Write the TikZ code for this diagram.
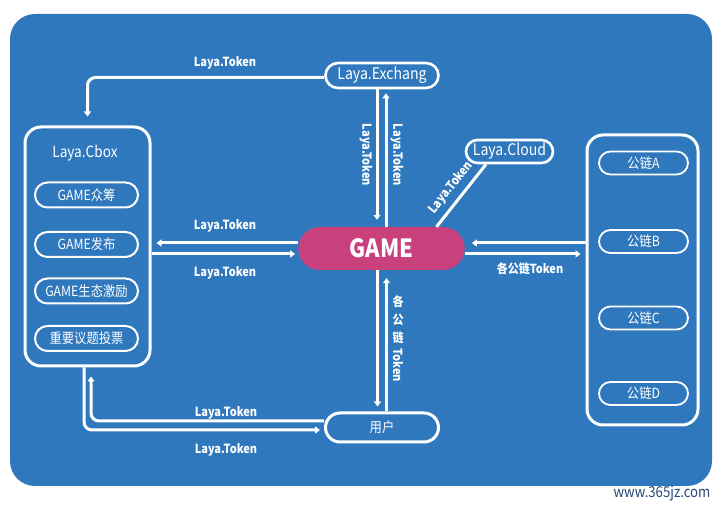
\documentclass[tikz,border=0pt]{standalone}
\usepackage{fontspec}
\usepackage{graphicx}
\setmainfont{Noto Sans CJK SC}[FakeStretch=0.88]
\usetikzlibrary{shapes.misc,arrows.meta}
\definecolor{panelblue}{RGB}{47,120,190}
\definecolor{gamepink}{RGB}{200,65,124}
\definecolor{markblue}{RGB}{40,70,120}
\tikzset{
  pill/.style={rounded rectangle, draw=white, line width=2.2pt, text=white,
    inner sep=0pt, font=\fontsize{14}{14}\selectfont},
  bigbox/.style={rectangle, rounded corners=16pt, draw=white, line width=3pt, inner sep=0pt},
  link/.style={draw=white, line width=3pt},
  arr/.style={link, -{Triangle[length=5pt,width=7pt]}},
  token/.style={text=white, font=\bfseries\fontsize{12.5}{12.5}\selectfont, inner sep=1pt},
}

\begin{document}
\begin{tikzpicture}[x=1pt,y=1pt]
\useasboundingbox (0,0) rectangle (727,510);
\fill[panelblue, rounded corners=25pt] (10,24) rectangle (712,496);

% nodes
\node[pill, minimum width=113pt, minimum height=25pt, line width=2.6pt,
  font=\fontsize{16}{16}\selectfont] (exch) at (382,434.5) {Laya.Exchang};
\node[pill, minimum width=87pt, minimum height=23pt, line width=2.6pt,
  font=\fontsize{16}{16}\selectfont] (cloud) at (509.5,358.5) {Laya.Cloud};
\node[rounded rectangle, fill=gamepink, minimum width=173pt, minimum height=43pt,
  text=white, font=\bfseries\fontsize{25}{25}\selectfont] (game) at (381.5,261.5) {GAME};

\node[bigbox, minimum width=125pt, minimum height=239pt] (cbox) at (87.5,263.5) {};
\node[text=white, font=\fontsize{15.5}{15.5}\selectfont] (cboxtitle) at (85,357) {Laya.Cbox};
\foreach \y/\name/\txt in {315/crowd/GAME众筹, 265.5/publish/GAME发布,
    219/reward/GAME生态激励, 171.5/vote/重要议题投票}
  \node[pill, minimum width=103pt, minimum height=25pt, line width=2pt] (\name) at (86.5,\y) {\txt};

\node[bigbox, minimum width=111pt, minimum height=290pt] (chains) at (642.5,230) {};
\foreach \y/\n in {347/A, 268.5/B, 192/C, 116.5/D}
  \node[pill, minimum width=89pt, minimum height=23pt, line width=1.8pt] (chain\n) at (643.5,\y) {公链\n};

\node[pill, minimum width=113pt, minimum height=29pt, line width=3pt] (user) at (382,82.5) {用户};

% exchange -> cbox
\draw[arr, rounded corners=8pt] ([yshift=-2pt]exch.west) -| ([yshift=9pt]cbox.north);
\node[token] (t1) at (225,447) {Laya.Token};

% exchange <-> game
\coordinate (gNL) at ([xshift=-4.5pt]game.north);
\coordinate (gNR) at ([xshift=4.5pt]game.north);
\draw[arr, shorten >=7pt] (gNL |- exch.south) -- (gNL);
\draw[arr, shorten >=4pt] (gNR) -- (gNR |- exch.south);
\node[token, rotate=-90] (t2) at (366,355) {Laya.Token};
\node[token, rotate=-90] (t3) at (397,355) {Laya.Token};

% cloud
\draw[link] ([xshift=55pt]game.north) -- node[token, sloped, above=4pt] (t4) {Laya.Token}
  ([xshift=-23.5pt]cloud.south);

% game <-> cbox
\coordinate (gWT) at ([yshift=5.5pt]game.west);
\coordinate (gWB) at ([yshift=-5.5pt]game.west);
\draw[arr, shorten >=5pt] (gWT) -- (gWT -| cbox.east);
\draw[arr, shorten >=3pt] (gWB -| cbox.east) -- (gWB);
\node[token] (t5) at (225,284) {Laya.Token};
\node[token] (t6) at (225,237) {Laya.Token};

% game <-> chains
\coordinate (gET) at ([yshift=5.5pt]game.east);
\coordinate (gEB) at ([yshift=-5.5pt]game.east);
\draw[arr, shorten >=7pt] (gET -| chains.west) -- (gET);
\draw[arr, shorten >=5pt] (gEB) -- (gEB -| chains.west);
\node[token] (t7) at (530,241) {各公链Token};

% game <-> user
\coordinate (gSL) at ([xshift=-4pt]game.south);
\coordinate (gSR) at ([xshift=5pt]game.south);
\draw[arr, shorten >=5pt] (gSL) -- (gSL |- user.north);
\draw[arr, shorten >=8pt] (gSR |- user.north) -- (gSR);
\node[token, align=center, font=\bfseries\fontsize{12.5}{18}\selectfont] (t8) at (398,171)
  {各\\公\\链\\[-12pt]\rotatebox{-90}{Token}};

% user <-> cbox
\draw[arr, rounded corners=8pt] ([yshift=6.5pt]user.west) -| ([xshift=3.5pt,yshift=-9pt]cbox.south);
\draw[arr, rounded corners=8pt, shorten >=4pt] ([xshift=-3.5pt]cbox.south) |- ([yshift=-2.5pt]user.west);
\node[token] (t9) at (226,97) {Laya.Token};
\node[token] (t10) at (226,60) {Laya.Token};

\node[text=markblue, font=\fontsize{15}{15}\selectfont] (mark) at (662,16) {www.365jz.com};
\end{tikzpicture}
\end{document}
